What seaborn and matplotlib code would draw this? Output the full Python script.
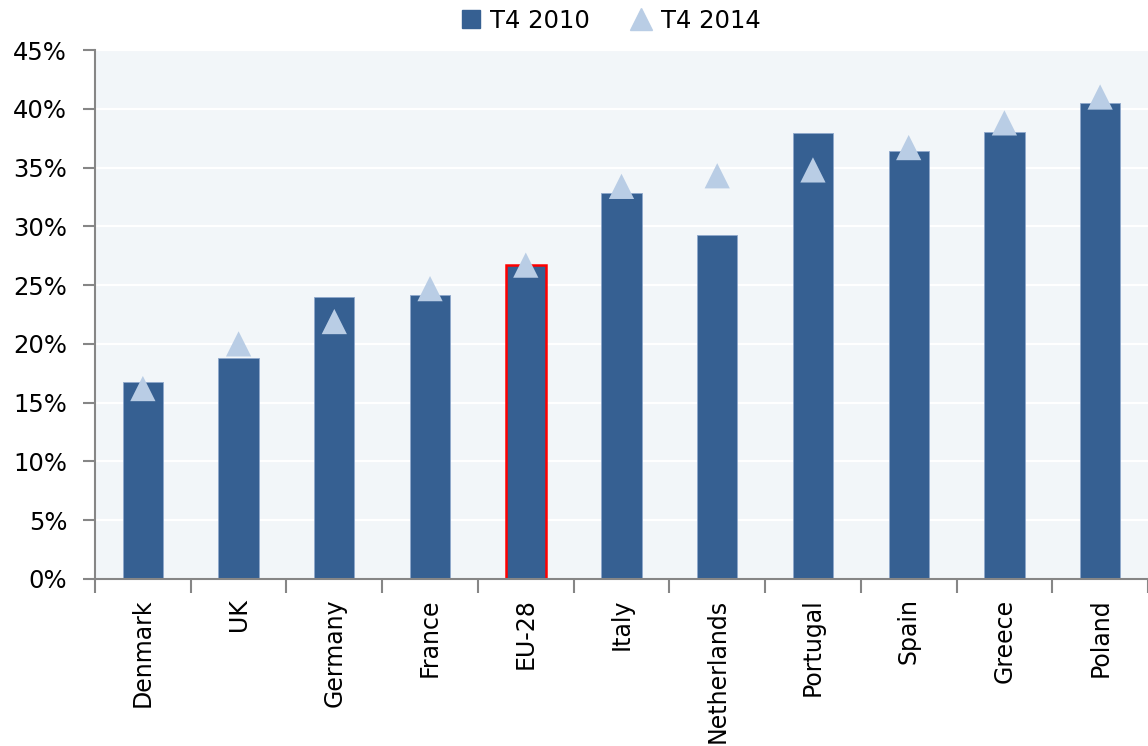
import matplotlib
matplotlib.use("Agg")
import matplotlib.pyplot as plt
import matplotlib.ticker as mticker
from matplotlib.lines import Line2D
import seaborn as sns
import pandas as pd
import numpy as np

countries = ["Denmark", "UK", "Germany", "France", "EU-28", "Italy",
             "Netherlands", "Portugal", "Spain", "Greece", "Poland"]
t4_2010 = [16.8, 18.8, 24.0, 24.2, 26.7, 32.8, 29.3, 37.9, 36.4, 38.0, 40.5]
t4_2014 = [16.2, 20.0, 21.9, 24.7, 26.7, 33.4, 34.3, 34.8, 36.7, 38.8, 41.0]
y_ticks = [0, 5, 10, 15, 20, 25, 30, 35, 40, 45]

df = pd.DataFrame({"country": countries, "T4 2010": t4_2010, "T4 2014": t4_2014})

sns.set_theme(style="white")
plt.rcParams["font.family"] = ["DejaVu Sans"]
plt.rcParams["text.color"] = "black"

bar_color = "#366092"
tri_color = "#B9CDE5"
axis_color = "#868686"

fig = plt.figure(figsize=(11.48, 7.46), dpi=100)
ax = fig.add_axes([95 / 1148, 1 - 579 / 746, 1 - 95 / 1148, (579 - 50) / 746])
ax.set_facecolor("#F2F6F9")

sns.barplot(data=df, x="country", y="T4 2010", order=countries, color=bar_color,
            saturation=1, width=0.42, ax=ax, edgecolor="#8FA8CC", linewidth=0.6, zorder=2)
for patch, c in zip(ax.patches, countries):
    if c == "EU-28":
        patch.set_edgecolor("#FF0000")
        patch.set_linewidth(1.8)

sns.scatterplot(data=df, x="country", y="T4 2014", marker="^", s=330, color=tri_color,
                edgecolor="none", ax=ax, zorder=3, legend=False)

ax.set_ylim(0, 45)
ax.set_xlim(-0.5, len(countries) - 0.5)
ax.set_yticks(y_ticks)
ax.yaxis.set_major_formatter(mticker.FuncFormatter(lambda v, p: f"{int(v)}%"))
ax.grid(axis="y", color="white", linewidth=1.6, zorder=0)
ax.set_axisbelow(True)

for s in ["top", "right"]:
    ax.spines[s].set_visible(False)
for s in ["left", "bottom"]:
    ax.spines[s].set_visible(True)
    ax.spines[s].set_color(axis_color)
    ax.spines[s].set_linewidth(1.5)

ax.tick_params(axis="y", which="major", left=True, length=9, width=1.5, color=axis_color,
               labelsize=17.5, labelcolor="black", pad=11)
ax.set_xticks(range(len(countries)))
ax.set_xticklabels(countries, rotation=90, fontsize=17, color="black")
ax.tick_params(axis="x", which="major", bottom=False, length=0, pad=14)
ax.set_xticks(np.arange(-0.5, len(countries), 1), minor=True)
ax.tick_params(axis="x", which="minor", bottom=True, length=10, width=1.5, color=axis_color)
ax.set_xlabel("")
ax.set_ylabel("")

handles = [
    Line2D([0], [0], marker="s", linestyle="none", markersize=13, color=bar_color),
    Line2D([0], [0], marker="^", linestyle="none", markersize=16, color=tri_color),
]
fig.legend(handles, ["T4 2010", "T4 2014"], loc="center", bbox_to_anchor=(0.531, 1 - 21 / 746),
           ncol=2, frameon=False, fontsize=17.5, handletextpad=0.3, columnspacing=1.6,
           handlelength=1.0, labelcolor="black")

fig.savefig("out.png", dpi=100)
